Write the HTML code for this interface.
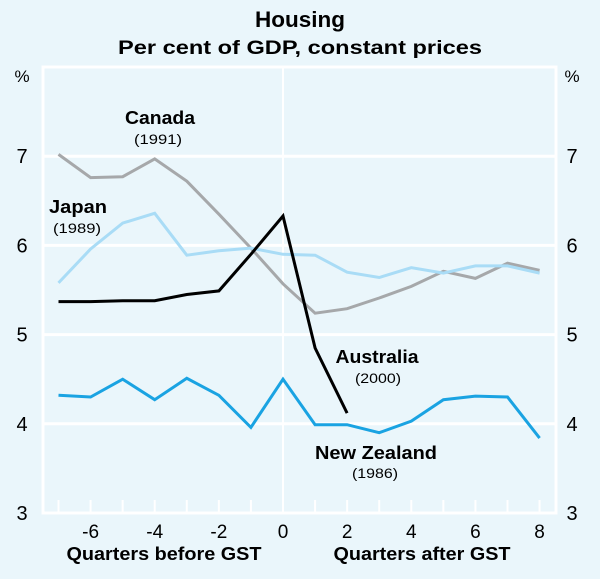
<!DOCTYPE html>
<html><head><meta charset="utf-8"><style>
html,body{margin:0;padding:0;background:#eaf6fb;}
svg{display:block;font-family:"Liberation Sans",Arial,sans-serif;}
</style></head><body>
<svg id="chart" width="600" height="579" viewBox="0 0 600 579">
<rect x="0" y="0" width="600" height="579" fill="#eaf6fb"/>
<text x="300" y="27" text-anchor="middle" font-size="22" font-weight="bold" textLength="90" lengthAdjust="spacingAndGlyphs">Housing</text>
<text x="300" y="54" text-anchor="middle" font-size="19" font-weight="bold" textLength="364" lengthAdjust="spacingAndGlyphs">Per cent of GDP, constant prices</text>
<g id="grid"></g>
<g id="axes"></g>
<g id="series"></g>
<text x="125" y="124" font-size="18" font-weight="bold" textLength="70" lengthAdjust="spacingAndGlyphs">Canada</text>
<text x="158" y="144" text-anchor="middle" font-size="14" textLength="48" lengthAdjust="spacingAndGlyphs">(1991)</text>
<text x="49" y="213" font-size="18" font-weight="bold" textLength="58" lengthAdjust="spacingAndGlyphs">Japan</text>
<text x="77" y="233" text-anchor="middle" font-size="14" textLength="48" lengthAdjust="spacingAndGlyphs">(1989)</text>
<text x="377" y="363" text-anchor="middle" font-size="18" font-weight="bold" textLength="83" lengthAdjust="spacingAndGlyphs">Australia</text>
<text x="378" y="383" text-anchor="middle" font-size="14" textLength="46" lengthAdjust="spacingAndGlyphs">(2000)</text>
<text x="376" y="459" text-anchor="middle" font-size="18" font-weight="bold" textLength="122" lengthAdjust="spacingAndGlyphs">New Zealand</text>
<text x="375" y="478" text-anchor="middle" font-size="14" textLength="46" lengthAdjust="spacingAndGlyphs">(1986)</text>
<text x="164" y="560" text-anchor="middle" font-size="18" font-weight="bold" textLength="195" lengthAdjust="spacingAndGlyphs">Quarters before GST</text>
<text x="422" y="560" text-anchor="middle" font-size="18" font-weight="bold" textLength="177" lengthAdjust="spacingAndGlyphs">Quarters after GST</text>
<text x="22" y="82" text-anchor="middle" font-size="17">%</text>
<text x="572" y="82" text-anchor="middle" font-size="17">%</text>
</svg>
<script>
const quarters = [-7,-6,-5,-4,-3,-2,-1,0,1,2,3,4,5,6,7,8];
const canada = [7.02,6.76,6.77,6.97,6.72,6.35,5.97,5.57,5.24,5.29,5.41,5.54,5.71,5.63,5.80,5.72];
const japan = [5.58,5.96,6.25,6.36,5.89,5.94,5.97,5.90,5.89,5.70,5.64,5.75,5.69,5.77,5.77,5.69];
const australia = [5.37,5.37,5.38,5.38,5.45,5.49,5.90,6.33,4.85,4.12];
const newZealand = [4.32,4.30,4.50,4.27,4.51,4.32,3.96,4.50,3.99,3.99,3.90,4.03,4.27,4.31,4.30,3.84];
const yTicks = [3,4,5,6,7];
const xTickLabels = [-6,-4,-2,0,2,4,6,8];

const L=43,R=556,T=67,B=513;
const X0=283, XS=32.07;
function xs(q){return X0+q*XS;}
function ys(v){return B-(v-3)*(B-T)/5;}
const NS='http://www.w3.org/2000/svg';
function mk(tag,attrs,parent){const e=document.createElementNS(NS,tag);for(const k in attrs)e.setAttribute(k,attrs[k]);parent.appendChild(e);return e;}
const grid=document.getElementById('grid'), axes=document.getElementById('axes'), series=document.getElementById('series');

let fr=mk('rect',{x:L,y:T,width:R-L,height:B-T,fill:'none',stroke:'#ffffff','stroke-width':3},grid);


yTicks.forEach(v=>{
  const g=mk('line',{x1:L,x2:R,y1:ys(v),y2:ys(v),stroke:'#ffffff','stroke-width':3},grid);
  
  
  const t1=mk('text',{x:22,y:ys(v)+7,'text-anchor':'middle','font-size':20},axes);t1.textContent=v;
  
  
  const t2=mk('text',{x:572,y:ys(v)+7,'text-anchor':'middle','font-size':20},axes);t2.textContent=v;
  
  
});
let vl=mk('line',{x1:xs(0),x2:xs(0),y1:T,y2:B,stroke:'#ffffff','stroke-width':2},grid);


for(let q=-7;q<=8;q++){
  const tk=mk('line',{x1:xs(q),x2:xs(q),y1:B-13,y2:B,stroke:'#ffffff','stroke-width':2},grid);
  
  
}
xTickLabels.forEach(q=>{
  const t=mk('text',{x:xs(q),y:538,'text-anchor':'middle','font-size':19},axes);t.textContent=q;
  
  
});
function line(vals,color,name){
  const pts=vals.map((v,i)=>xs(quarters[i]).toFixed(1)+','+ys(v).toFixed(1)).join(' ');
  const p=mk('polyline',{points:pts,fill:'none',stroke:color,'stroke-width':3,'stroke-linejoin':'miter'},series);
  
  
}
line(canada,'#a6a8aa','canada-line');
line(japan,'#a9dcf6','japan-line');
line(newZealand,'#1aa3e2','new-zealand-line');
line(australia,'#000000','australia-line');
</script>
</body></html>
